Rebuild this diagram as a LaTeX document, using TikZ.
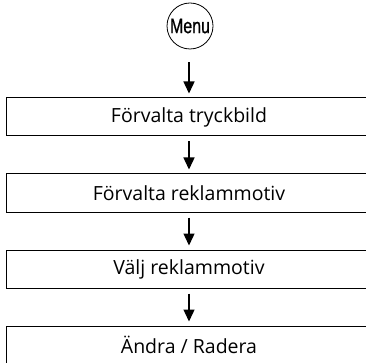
\documentclass[tikz,border=0pt]{standalone}
\usepackage{fontspec}
\setmainfont{Open Sans}
\newfontfamily\menufont[FakeStretch=0.76,FakeBold=0.8]{Liberation Sans}
\usetikzlibrary{arrows.meta,positioning}

\begin{document}
\begin{tikzpicture}[
    x=1pt,
    y=-1pt,
    font=\fontsize{19.5}{23}\selectfont,
    stepbox/.style={draw, line width=1pt, minimum width=366pt, minimum height=38pt, inner sep=0pt},
    flow/.style={-{Triangle[width=11pt,length=12pt]}, line width=1.4pt, shorten <=5pt, shorten >=4pt}
]
\useasboundingbox (0,0) rectangle (366,363);

\node[circle, draw, line width=0.8pt, minimum size=46pt, inner sep=0pt, font=\menufont\fontsize{21}{24}\selectfont] (menu) at (190,26) {Menu};

\node[stepbox] (tryck) at (189,117) {Förvalta tryckbild};
\node[stepbox] (motiv) at (189,193) {Förvalta reklammotiv};
\node[stepbox] (valj) at (189,269) {Välj reklammotiv};
\node[stepbox] (andra) at (189,345) {Ändra / Radera};

\draw[flow, shorten <=13pt] (menu.south -| tryck.north) -- (tryck);
\draw[flow] (tryck) -- (motiv);
\draw[flow] (motiv) -- (valj);
\draw[flow] (valj) -- (andra);
\end{tikzpicture}
\end{document}
